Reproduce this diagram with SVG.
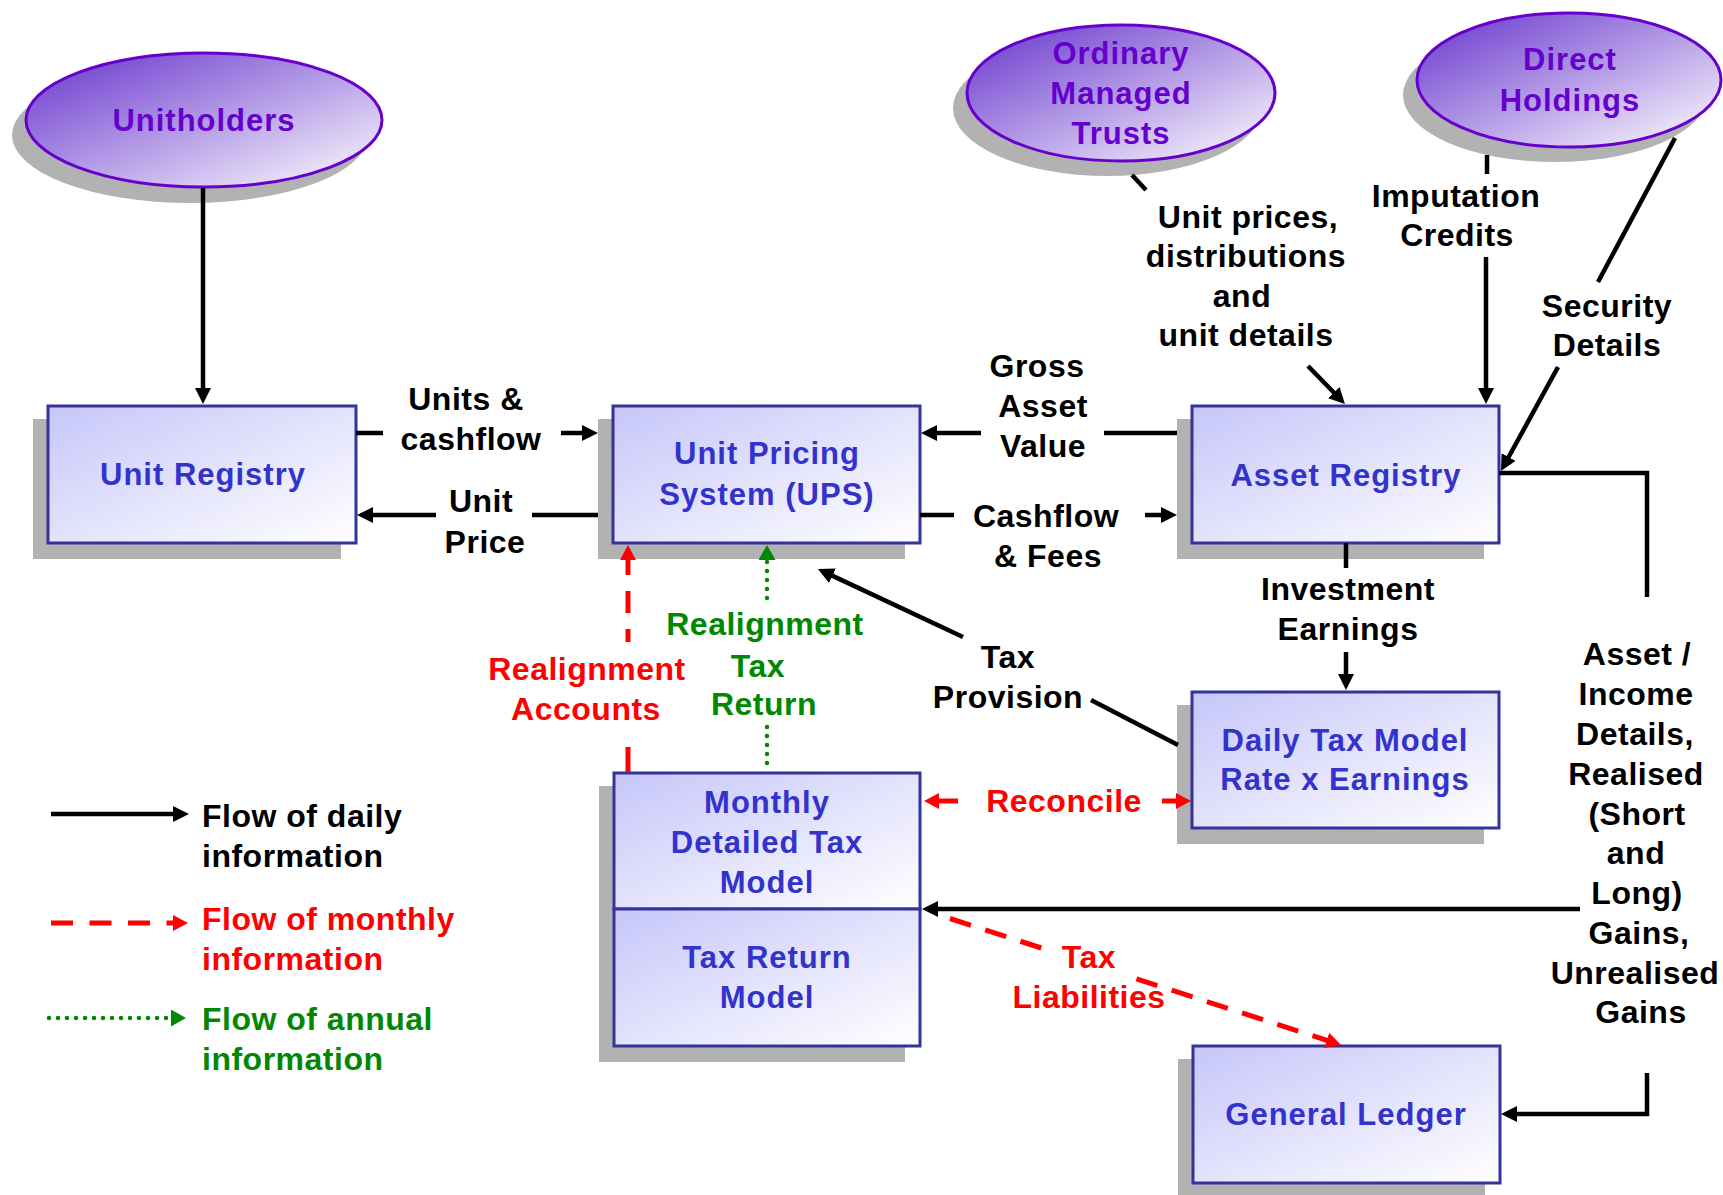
<svg xmlns="http://www.w3.org/2000/svg" width="1723" height="1195" viewBox="0 0 1723 1195">
<defs>
<style>
text{font-family:"Liberation Sans",Arial,sans-serif;font-weight:bold}
.lb{font-size:32px;letter-spacing:0.5px;fill:#000;text-anchor:middle}
.lr{font-size:32px;letter-spacing:0.5px;fill:#ff0000;text-anchor:middle}
.lg{font-size:32px;letter-spacing:0.5px;fill:#008800;text-anchor:middle}
.nt{font-size:31px;letter-spacing:1px;fill:#3333cc;text-anchor:middle}
.et{font-size:31px;letter-spacing:1px;fill:#6600cc;text-anchor:middle}
.leg{font-size:32px;letter-spacing:0.5px}
.box{fill:url(#gb);stroke:#333399;stroke-width:3}
.ell{fill:url(#ge);stroke:#6600cc;stroke-width:3}
.sh{fill:#b2b2b2}
.k{stroke:#000;stroke-width:4.5;fill:none}
.ka{stroke:#000;stroke-width:4.5;fill:none;marker-end:url(#ab)}
.r{stroke:#ff0000;stroke-width:5;fill:none}
.rd{stroke:#ff0000;stroke-width:5;fill:none;stroke-dasharray:22 15}
.g{stroke:#008800;stroke-width:4.5;fill:none;stroke-linecap:round;stroke-dasharray:0 9}
</style>
<linearGradient id="gb" x1="0" y1="0" x2="1" y2="1">
<stop offset="0" stop-color="#c6c6fa"/>
<stop offset="1" stop-color="#ffffff"/>
</linearGradient>
<linearGradient id="ge" x1="0" y1="0" x2="1" y2="1">
<stop offset="0" stop-color="#6633cc"/>
<stop offset="1" stop-color="#ffffff"/>
</linearGradient>
<marker id="ab" viewBox="0 0 16 16" refX="8" refY="8" markerWidth="16" markerHeight="16" markerUnits="userSpaceOnUse" orient="auto-start-reverse">
<path d="M0,0 L16,8 L0,16 z" fill="#000"/>
</marker>
<marker id="ar" viewBox="0 0 15 16" refX="7" refY="8" markerWidth="15" markerHeight="16" markerUnits="userSpaceOnUse" orient="auto-start-reverse">
<path d="M0,0 L15,8 L0,16 z" fill="#ff0000"/>
</marker>
<marker id="ag" viewBox="0 0 15 17" refX="7" refY="8.5" markerWidth="15" markerHeight="17" markerUnits="userSpaceOnUse" orient="auto-start-reverse">
<path d="M0,0 L15,8.5 L0,17 z" fill="#008800"/>
</marker>
</defs>

<rect width="1723" height="1195" fill="#ffffff"/>

<g id="unitholders">
<ellipse class="sh" cx="190" cy="135" rx="178" ry="68"/>
<ellipse class="ell" cx="204" cy="120" rx="178" ry="67"/>
<text class="et" x="204" y="131">Unitholders</text>
</g>

<g id="ordinary-managed-trusts">
<ellipse class="sh" cx="1107" cy="108" rx="154" ry="68"/>
<ellipse class="ell" cx="1121" cy="93" rx="154" ry="68"/>
<text class="et"><tspan x="1121" y="64">Ordinary</tspan><tspan x="1121" y="104">Managed</tspan><tspan x="1121" y="144">Trusts</tspan></text>
</g>

<g id="direct-holdings">
<ellipse class="sh" cx="1555" cy="95" rx="152" ry="67"/>
<ellipse class="ell" cx="1569" cy="80" rx="152" ry="67"/>
<text class="et"><tspan x="1570" y="70">Direct</tspan><tspan x="1570" y="111">Holdings</tspan></text>
</g>

<g id="unit-registry">
<rect class="sh" x="33" y="419" width="308" height="140"/>
<rect class="box" x="48" y="406" width="308" height="137"/>
<text class="nt" x="203" y="485">Unit Registry</text>
</g>

<g id="unit-pricing-system">
<rect class="sh" x="598" y="419" width="307" height="140"/>
<rect class="box" x="613" y="406" width="307" height="137"/>
<text class="nt"><tspan x="767" y="464">Unit Pricing</tspan><tspan x="767" y="505">System (UPS)</tspan></text>
</g>

<g id="asset-registry">
<rect class="sh" x="1177" y="419" width="307" height="140"/>
<rect class="box" x="1192" y="406" width="307" height="137"/>
<text class="nt" x="1346" y="486">Asset Registry</text>
</g>

<g id="daily-tax-model">
<rect class="sh" x="1177" y="705" width="307" height="139"/>
<rect class="box" x="1192" y="692" width="307" height="136"/>
<text class="nt"><tspan x="1345" y="751">Daily Tax Model</tspan><tspan x="1345" y="790">Rate x Earnings</tspan></text>
</g>

<g id="monthly-tax-model">
<rect class="sh" x="599" y="786" width="306" height="276"/>
<rect class="box" x="614" y="773" width="306" height="136"/>
<text class="nt"><tspan x="767" y="813">Monthly</tspan><tspan x="767" y="853">Detailed Tax</tspan><tspan x="767" y="893">Model</tspan></text>
</g>

<g id="tax-return-model">
<rect class="box" x="614" y="909" width="306" height="137"/>
<text class="nt"><tspan x="767" y="968">Tax Return</tspan><tspan x="767" y="1008">Model</tspan></text>
</g>

<g id="general-ledger">
<rect class="sh" x="1178" y="1059" width="307" height="140"/>
<rect class="box" x="1193" y="1046" width="307" height="137"/>
<text class="nt" x="1346" y="1125">General Ledger</text>
</g>

<g id="connectors">
<!-- Unitholders -> Unit Registry -->
<path class="ka" d="M203,188 V396"/>
<!-- Units & cashflow -->
<path class="k" d="M356,433 H383"/>
<path class="ka" d="M561,433 H590"/>
<text class="lb"><tspan x="466" y="410">Units &amp;</tspan><tspan x="471" y="450">cashflow</tspan></text>
<!-- Unit Price -->
<path class="k" d="M598,515 H532"/>
<path class="ka" d="M436,515 H365"/>
<text class="lb"><tspan x="481" y="512">Unit</tspan><tspan x="485" y="553">Price</tspan></text>
<!-- Gross Asset Value -->
<path class="k" d="M1177,433 H1104"/>
<path class="ka" d="M981,433 H929"/>
<text class="lb"><tspan x="1037" y="377">Gross</tspan><tspan x="1043" y="417">Asset</tspan><tspan x="1043" y="457">Value</tspan></text>
<!-- Cashflow & Fees -->
<path class="k" d="M920,515 H954"/>
<path class="ka" d="M1145,515 H1169"/>
<text class="lb"><tspan x="1046" y="527">Cashflow</tspan><tspan x="1048" y="567">&amp; Fees</tspan></text>
<!-- Ordinary Managed Trusts -> Asset Registry -->
<path class="k" d="M1132,175 L1146,190"/>
<path class="ka" d="M1308,366 L1339.4,398.3"/>
<text class="lb"><tspan x="1248" y="228">Unit prices,</tspan><tspan x="1246" y="267">distributions</tspan><tspan x="1242" y="307">and</tspan><tspan x="1246" y="346">unit details</tspan></text>
<!-- Imputation Credits -->
<path class="k" d="M1487,155 V174"/>
<path class="ka" d="M1486,257 V396"/>
<text class="lb"><tspan x="1456" y="207">Imputation</tspan><tspan x="1457" y="246">Credits</tspan></text>
<!-- Security Details -->
<path class="k" d="M1675,138 L1598,282"/>
<path class="ka" d="M1558,367 L1504.8,464"/>
<text class="lb"><tspan x="1607" y="317">Security</tspan><tspan x="1607" y="356">Details</tspan></text>
<!-- Asset Registry -> General Ledger (right side) -->
<path class="k" d="M1499,473 H1647 V597"/>
<path class="ka" d="M1647,1073 V1114 H1509"/>
<!-- to Monthly / Tax Return -->
<path class="ka" d="M1580,909 H930"/>
<text class="lb"><tspan x="1637" y="665">Asset /</tspan><tspan x="1636" y="705">Income</tspan><tspan x="1635" y="745">Details,</tspan><tspan x="1636" y="785">Realised</tspan><tspan x="1637" y="825">(Short</tspan><tspan x="1636" y="864">and</tspan><tspan x="1637" y="904">Long)</tspan><tspan x="1639" y="944">Gains,</tspan><tspan x="1635" y="984">Unrealised</tspan><tspan x="1641" y="1023">Gains</tspan></text>
<!-- Investment Earnings -->
<path class="k" d="M1346,543 V568"/>
<path class="ka" d="M1346,652 V682"/>
<text class="lb"><tspan x="1348" y="600">Investment</tspan><tspan x="1348" y="640">Earnings</tspan></text>
<!-- Tax Provision -->
<path class="k" d="M1178,745 L1091,700"/>
<path class="ka" d="M963,637 L825.2,572.4"/>
<text class="lb"><tspan x="1008" y="668">Tax</tspan><tspan x="1008" y="708">Provision</tspan></text>
<!-- Realignment Accounts (monthly) -->
<path class="r" d="M628,553 V642" stroke-dasharray="22 16" marker-start="url(#ar)"/>
<path class="r" d="M628,747 V772"/>
<text class="lr"><tspan x="587" y="680">Realignment</tspan><tspan x="586" y="720">Accounts</tspan></text>
<!-- Realignment Tax Return (annual) -->
<path class="g" d="M767,553 V600" marker-start="url(#ag)"/>
<path class="g" d="M767,727 V772"/>
<text class="lg"><tspan x="765" y="635">Realignment</tspan><tspan x="758" y="677">Tax</tspan><tspan x="764" y="715">Return</tspan></text>
<!-- Reconcile -->
<path class="r" d="M958,801 H932" marker-end="url(#ar)"/>
<path class="r" d="M1162,801 H1183" marker-end="url(#ar)"/>
<text class="lr" x="1064" y="812">Reconcile</text>
<!-- Tax Liabilities -->
<path class="rd" d="M950,918.5 L1041.3,948"/>
<path class="rd" d="M1333.4,1042.5 L1134,978" marker-start="url(#ar)"/>
<text class="lr"><tspan x="1089" y="968">Tax</tspan><tspan x="1089" y="1008">Liabilities</tspan></text>
</g>

<g id="legend">
<path class="ka" d="M51,814 H181"/>
<path class="r" d="M51,923 H180" stroke-dasharray="22 16.5" marker-end="url(#ar)"/>
<path class="g" d="M49,1018 H178" marker-end="url(#ag)"/>
<text class="leg" fill="#000"><tspan x="202" y="827">Flow of daily</tspan><tspan x="202" y="867">information</tspan></text>
<text class="leg" fill="#ff0000"><tspan x="202" y="930">Flow of monthly</tspan><tspan x="202" y="970">information</tspan></text>
<text class="leg" fill="#008800"><tspan x="202" y="1030">Flow of annual</tspan><tspan x="202" y="1070">information</tspan></text>
</g>
</svg>
